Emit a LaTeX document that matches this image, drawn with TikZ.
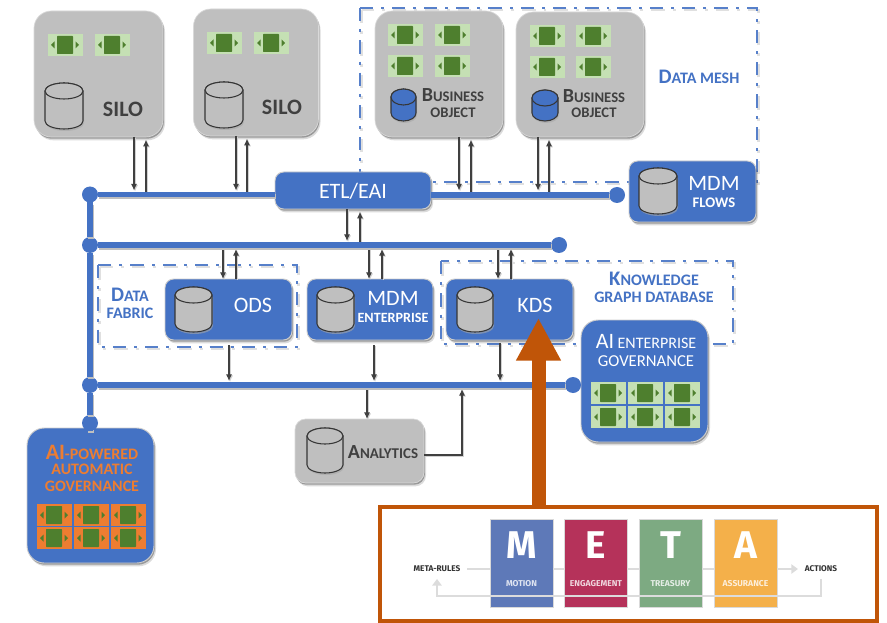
\documentclass[tikz,border=0pt]{standalone}
\usepackage{fontspec}
\setmainfont{Carlito}
\newfontfamily\metafont{Fira Sans}
\usetikzlibrary{shadows,arrows.meta,calc}
\definecolor{cblue}{HTML}{4472C4}
\definecolor{cgray}{HTML}{BFBFBF}
\definecolor{lgreen}{HTML}{C5E0B4}
\definecolor{wgreen}{HTML}{4E7F2E}
\definecolor{corange}{HTML}{ED7D31}
\definecolor{rust}{HTML}{C05508}
\definecolor{txt}{HTML}{404040}
\definecolor{mM}{HTML}{5E79B8}
\definecolor{mE}{HTML}{B5325A}
\definecolor{mT}{HTML}{7DAA82}
\definecolor{mA}{HTML}{F4B04A}
\definecolor{mline}{HTML}{DCDCDC}
\newcommand\sz[2]{{\fontsize{#1}{#1}\selectfont #2}}
\newcommand\widget[3]{\begin{scope}[shift={(#1,#2)}]
  \fill[#3] (-17.5,-11) rectangle (17.5,11);
  \fill[wgreen,rounded corners=.5pt] (-8,-9) rectangle (8,9);
  \fill[wgreen] (-14,0) -- (-10.5,-3.5) -- (-10.5,3.5) -- cycle;
  \fill[wgreen] (14,0) -- (10.5,-3.5) -- (10.5,3.5) -- cycle;
\end{scope}}
% x1 x2 y1 y2 fill
\newcommand\dbcyl[5]{%
  \fill[black!35,opacity=.6] ({#1+1},{#3+8+2}) -- ({#1+1},{#4-8+2}) arc[start angle=180,end angle=0,x radius={(#2-#1)/2},y radius=8] -- ({#2+1},{#3+8+2}) -- cycle;
  \draw[line width=.8pt,draw=txt!85!black,fill=#5] (#1,{#3+8}) -- (#1,{#4-8}) arc[start angle=180,end angle=0,x radius={(#2-#1)/2},y radius=8] -- (#2,{#3+8}) arc[start angle=0,end angle=180,x radius={(#2-#1)/2},y radius=-8] -- cycle;
  \draw[line width=.8pt,draw=txt!85!black,fill=#5] ({(#1+#2)/2},{#3+8}) ellipse[x radius={(#2-#1)/2},y radius=8];
}
\tikzset{
  sized/.style 2 args={minimum width=#1*0.75pt,minimum height=#2*0.75pt,inner sep=0pt,outer sep=0pt},
  softshadow/.style={drop shadow={shadow xshift=1.5pt,shadow yshift=-2.5pt,fill=black,opacity=.14},
                     drop shadow={shadow xshift=.7pt,shadow yshift=-1.3pt,fill=black,opacity=.3}},
  graybox/.style={rectangle,rounded corners=13pt,fill=cgray,draw=black!15,line width=.5pt,softshadow},
  bluebox/.style={rectangle,rounded corners=6.5pt,fill=cblue,draw=black!20,line width=.7pt,softshadow},
  bigblue/.style={rectangle,rounded corners=13pt,fill=cblue,draw=black!20,line width=.7pt,softshadow},
  dashframe/.style={draw=cblue!90,line width=2pt,dash pattern=on 10pt off 6pt on 2.2pt off 6pt},
  dashshade/.style={draw=black!12,line width=2pt,dash pattern=on 10pt off 6pt on 2.2pt off 6pt},
  dot/.style={circle,fill=cblue,minimum size=12pt,inner sep=0pt,outer sep=0pt},
  busline/.style={draw=cblue,line width=4.2pt,preaction={draw=black!25,line width=4.2pt,transform canvas={xshift=.8pt,yshift=-1.6pt}}},
  arr/.style={draw=txt,line width=.8pt,-{Latex[length=5pt,width=4.6pt]},preaction={draw=black!18,line width=.8pt,transform canvas={xshift=.8pt,yshift=-.8pt}}},
  toB/.style={shorten >=3pt},
  frB/.style={shorten >=2pt},
  white text/.style={text=white,inner sep=0pt,font=\fontsize{16.5}{18}\selectfont},
  dark text/.style={text=txt,font=\bfseries,inner sep=0pt},
  bluelab/.style={text=cblue,inner sep=0pt,font=\bfseries\fontsize{12}{14}\selectfont},
  bolab/.style={text=txt,inner sep=0pt,font=\bfseries\fontsize{11}{13}\selectfont},
  orlab/.style={inner sep=0pt,text=corange,font=\bfseries\fontsize{12}{13}\selectfont},
  metabar/.style={rectangle,inner sep=0pt,outer sep=0pt,minimum width=47pt,minimum height=66pt,draw=white!70!gray,line width=.3pt},
  metaletter/.style={text=white,inner sep=0pt,font=\metafont\bfseries\fontsize{29}{30}\selectfont},
  metasub/.style={inner sep=0pt,font=\metafont\bfseries\fontsize{6.4}{8}\selectfont},
  metaline/.style={draw=mline,line width=1.3pt},
  metalab/.style={text=black!80,inner sep=5pt,font=\metafont\bfseries\fontsize{6.2}{8}\selectfont},
}
\begin{document}
\begin{tikzpicture}[x=0.75pt,y=-0.75pt]
\useasboundingbox (0,0) rectangle (887,623);
\fill[white] (0,0) rectangle (887,623);

% dash-dot frames
\draw[dashshade] (361.5,10) rectangle (758.5,184);
\draw[dashshade] (99.5,267) rectangle (298.5,349);
\draw[dashshade] (442.5,263) rectangle (734.5,346);
\draw[dashframe] (360,8) rectangle (757,182);
\draw[dashframe] (98,265) rectangle (297,347);
\draw[dashframe] (441,261) rectangle (733,344);

% boxes
\node[graybox,sized={129}{126}] (silo1) at (98.5,74) {};
\node[graybox,sized={125}{127}] (silo2) at (256,72.5) {};
\node[graybox,sized={128}{126}] (bo1) at (439,74) {};
\node[graybox,sized={128}{125}] (bo2) at (580,74.5) {};
\node[bluebox,sized={127}{61}] (mdmf) at (692.5,191.5) {};
\node[bluebox,sized={156}{37}] (etl) at (353,190.5) {};
\node[bluebox,sized={127}{61}] (ods) at (228.5,309.5) {};
\node[bluebox,sized={126}{61}] (mdme) at (370,309.5) {};
\node[bluebox,sized={127}{61}] (kds) at (509.5,309.5) {};
\node[bigblue,sized={127}{122}] (aient) at (644.5,381) {};
\node[bigblue,sized={127}{135}] (aipow) at (90.5,495.5) {};
\node[graybox,rounded corners=8pt,sized={129}{64}] (ana) at (359.5,451) {};

% bus end points
\node[dot] (a1) at (90,194.5) {};
\node[dot] (a2) at (617,195) {};
\node[dot] (b1) at (90,245) {};
\node[dot] (b2) at (559,245) {};
\node[dot] (c1) at (90,385) {};
\node[dot] (c2) at (573,385) {};
\node[dot] (d1) at (90,423) {};

% small arrows
\draw[arr,toB] (134,0 |- silo1.south) -- (134,0 |- a1);
\draw[arr,frB] (146,0 |- a1) -- (146,0 |- silo1.south);
\draw[arr,toB] (236,0 |- silo2.south) -- (236,0 |- a1);
\draw[arr,frB] (247,0 |- a1) -- (247,0 |- silo2.south);
\draw[arr,toB] (459,0 |- bo1.south) -- (459,0 |- a1);
\draw[arr,frB] (471,0 |- a1) -- (471,0 |- bo1.south);
\draw[arr,toB] (538,0 |- bo2.south) -- (538,0 |- a1);
\draw[arr,frB] (549,0 |- a1) -- (549,0 |- bo2.south);
\draw[arr,toB] (347,0 |- etl.south) -- (347,0 |- b1);
\draw[arr,frB] (360,0 |- b1) -- (360,0 |- etl.south);
\draw[arr] (223,0 |- b1) -- (223,0 |- ods.north);
\draw[arr,toB] (236,0 |- ods.north) -- (236,0 |- b1);
\draw[arr] (369,0 |- b1) -- (369,0 |- mdme.north);
\draw[arr,toB] (382,0 |- mdme.north) -- (382,0 |- b1);
\draw[arr] (498,0 |- b1) -- (498,0 |- kds.north);
\draw[arr,toB] (511,0 |- kds.north) -- (511,0 |- b1);
\draw[arr,toB,shorten <=4pt] (229,0 |- ods.south) -- (229,0 |- c1);
\draw[arr,toB,shorten <=4pt] (374,0 |- mdme.south) -- (374,0 |- c1);
\draw[arr,toB,shorten <=2pt] (500,0 |- kds.south) -- (500,0 |- c1);
\draw[arr] (367,0 |- c1) -- (367,0 |- ana.north);
\draw[arr,shorten >=3pt] (ana.east |- 0,455) -- (462,455) -- (462,0 |- c1);

% buses
\draw[busline] (a1) -- (etl.west |- a1);
\draw[busline] (etl.east |- a2) -- (a2);
\draw[busline] (b1) -- (b2);
\draw[busline] (c1) -- (c2);
\draw[busline] (a1) -- (b1);
\draw[busline] (b1) -- (c1);
\draw[busline] (c1) -- (d1);
\draw[busline] (d1) -- (aipow.north -| d1);

% widgets
\foreach \x in {65,112} {\widget{\x}{45}{lgreen}}
\foreach \x in {224,271} {\widget{\x}{43}{lgreen}}
\foreach \x in {405,452} {\foreach \y in {35,66} {\widget{\x}{\y}{lgreen}}}
\foreach \x in {547,593} {\foreach \y in {36,67} {\widget{\x}{\y}{lgreen}}}
\foreach \x in {608,645,682} {\foreach \y in {393,417} {\widget{\x}{\y}{lgreen}}}
\foreach \x in {54,91,128} {\foreach \y in {515,538} {\widget{\x}{\y}{corange}}}

% cylinders
\dbcyl{45}{83}{83}{129}{cgray}
\dbcyl{205}{243}{82}{128}{cgray}
\dbcyl{391}{416}{89}{121}{cblue}
\dbcyl{532}{558}{90}{121}{cblue}
\dbcyl{639}{677}{168}{214}{cgray}
\dbcyl{175}{212}{287}{332}{cgray}
\dbcyl{317}{354}{287}{332}{cgray}
\dbcyl{457}{493}{287}{332}{cgray}
\dbcyl{307}{343}{428}{473}{cgray}

% labels
\node[dark text,font=\bfseries\fontsize{16.5}{18}\selectfont] (t1) at (123,109) {SILO};
\node[dark text,font=\bfseries\fontsize{16.5}{18}\selectfont] (t2) at (282,107) {SILO};
\node[bolab] (t3) at (453,95) {\sz{15}{B}USINESS};
\node[bolab] (t4) at (453,113) {OBJECT};
\node[bolab] (t5) at (594,96) {\sz{15}{B}USINESS};
\node[bolab] (t6) at (594,113) {OBJECT};
\node[bluelab] (t7) at (699,77) {\sz{15.5}{D}ATA MESH};
\node[white text] (t8) at (714,183) {MDM};
\node[white text,font=\bfseries\fontsize{11}{13}\selectfont] (t9) at (714,203) {FLOWS};
\node[white text] (t10) at (353,191) {ETL/EAI};
\node[white text] (t11) at (253,305) {ODS};
\node[white text] (t12) at (393,298) {MDM};
\node[white text,font=\bfseries\fontsize{10.6}{13}\selectfont] (t13) at (393,318) {ENTERPRISE};
\node[white text] (t14) at (535,305) {KDS};
\node[bluelab] (t15) at (130,295) {\sz{15.5}{D}ATA};
\node[bluelab] (t16) at (130,313) {FABRIC};
\node[bluelab] (t17) at (654,279) {\sz{15.5}{K}NOWLEDGE};
\node[bluelab] (t18) at (654,297) {GRAPH DATABASE};
\node[white text,font=\fontsize{12}{13}\selectfont] (t19) at (646,341.5) {\sz{16.5}{AI} ENTERPRISE};
\node[white text,font=\fontsize{12.5}{13}\selectfont] (t20) at (646,361) {GOVERNANCE};
\node[orlab] (t21) at (92,452) {\sz{16.5}{AI}-POWERED};
\node[orlab] (t22) at (92,469) {AUTOMATIC};
\node[orlab] (t23) at (92,486) {GOVERNANCE};
\node[dark text,font=\bfseries\fontsize{11.2}{13}\selectfont] (t24) at (383,452) {\sz{15}{A}NALYTICS};

% META panel
\node[rectangle,draw=rust,line width=2.3pt,fill=white,sized={497}{114}] (meta) at (628.5,564) {};
\node[metabar,fill=mM] (mb) at (521.5,563) {};
\node[metabar,fill=mE] (eb) at (596,563) {};
\node[metabar,fill=mT] (tb) at (670.5,563) {};
\node[metabar,fill=mA] (ab) at (745.5,563) {};
\node[metalab] (rules) at (437,569) {META-RULES};
\node[metalab] (acts) at (821,569) {ACTIONS};
\node[metaletter] (lm) at (521.5,545) {M};
\node[metaletter] (le) at (596,545) {E};
\node[metaletter] (lt) at (670.5,545) {T};
\node[metaletter] (la) at (745.5,545) {A};
\node[metasub,text=white!80!mM] (sm) at (521.5,583.5) {MOTION};
\node[metasub,text=white!80!mE] (se) at (596,583.5) {ENGAGEMENT};
\node[metasub,text=white!80!mT] (st) at (670.5,583.5) {TREASURY};
\node[metasub,text=white!80!mA] (sa) at (745.5,583.5) {ASSURANCE};
\draw[metaline] (rules) -- (mb.west |- rules);
\draw[metaline] (mb.east |- rules) -- (eb.west |- rules);
\draw[metaline] (eb.east |- rules) -- (tb.west |- rules);
\draw[metaline] (tb.east |- rules) -- (ab.west |- rules);
\draw[metaline,-{Triangle[length=5pt,width=7pt]}] (ab.east |- rules) -- (acts);
\draw[metaline,-{Triangle[length=5pt,width=7pt]}] (acts.south) -- (acts.south |- 0,596) -- (rules.south |- 0,596) -- (rules.south);

% big arrow into KDS
\coordinate (kdstip) at (538.5,318);
\draw[draw=rust,line width=10.5pt,-{Triangle[length=32pt,width=31.5pt]}] (meta.north -| kdstip) -- (kdstip);
\end{tikzpicture}
\end{document}
